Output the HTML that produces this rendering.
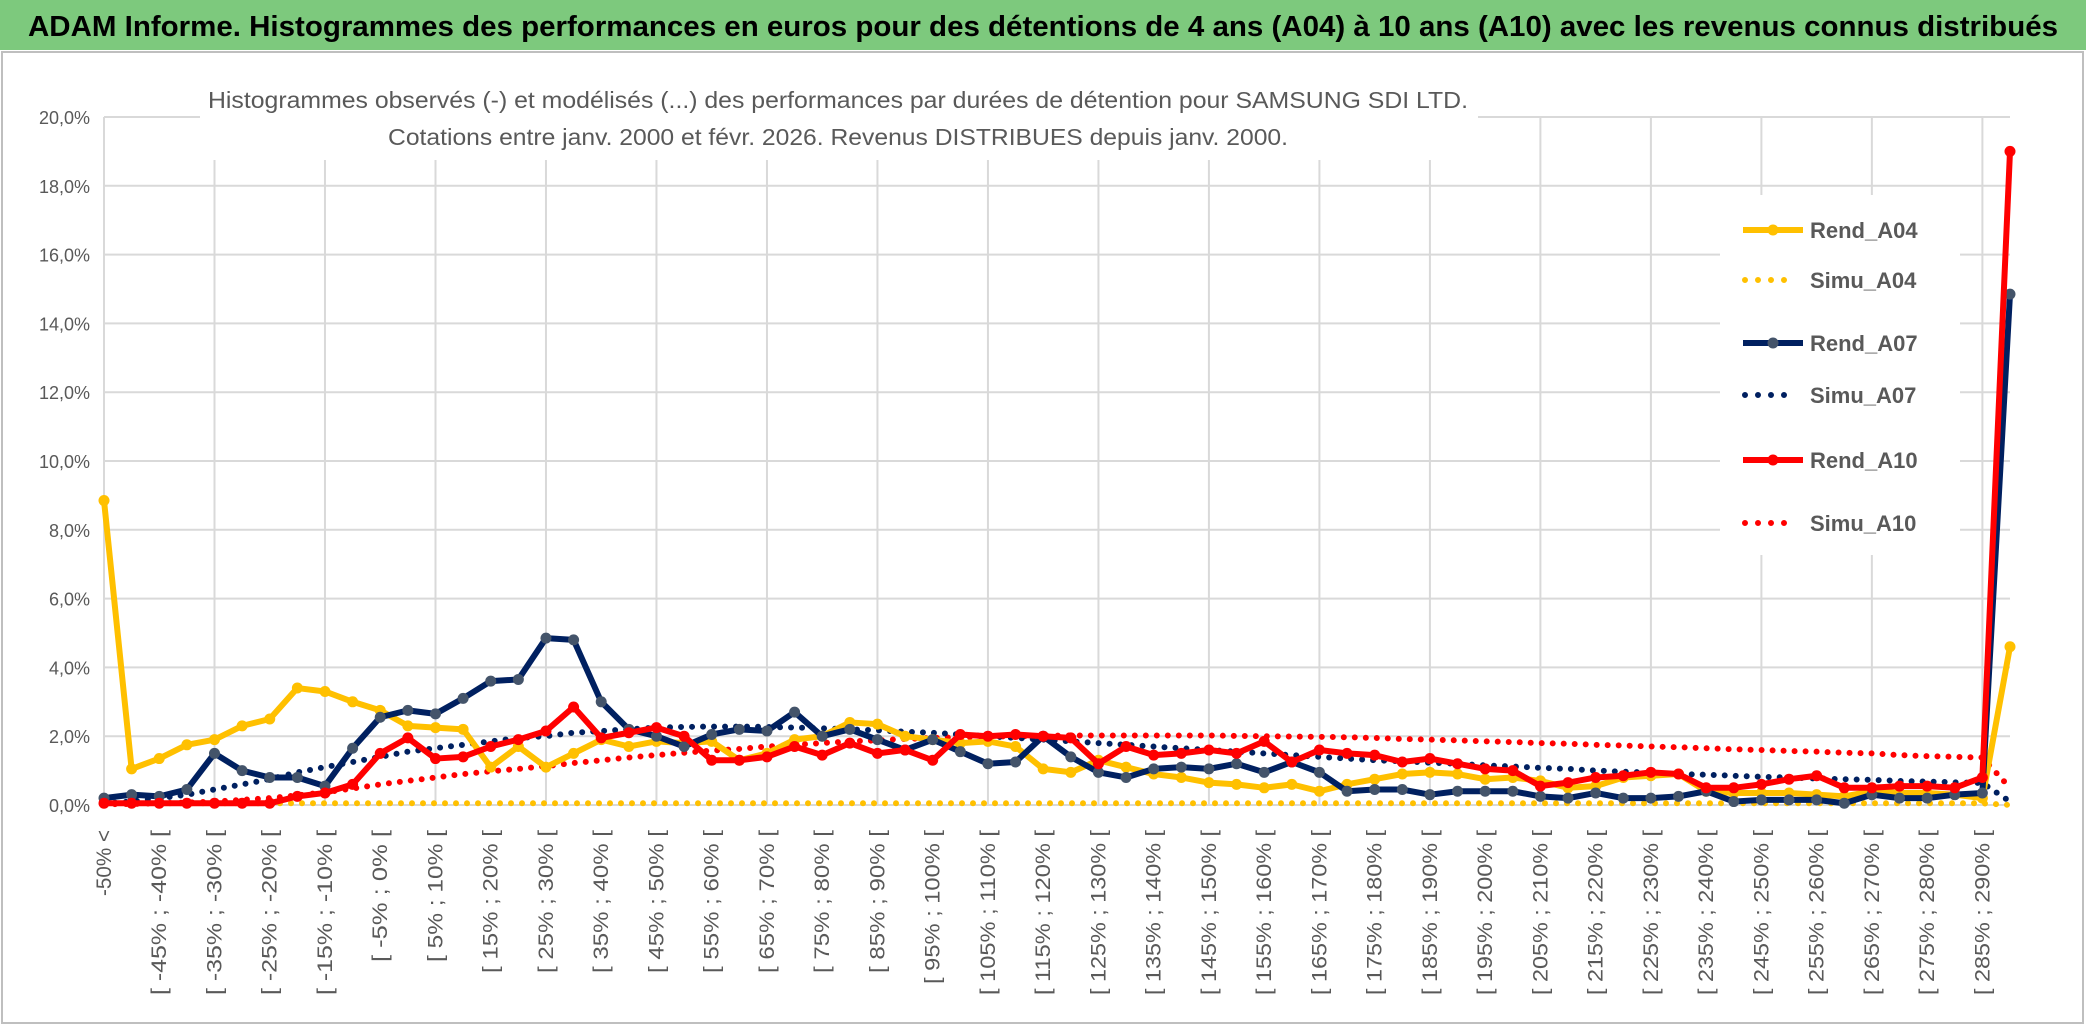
<!DOCTYPE html>
<html><head><meta charset="utf-8"><style>
html,body{margin:0;padding:0;background:#fff}
svg{display:block}
text{font-family:"Liberation Sans",sans-serif}
</style></head><body>
<svg id="chart" width="2086" height="1031" viewBox="0 0 2086 1031">
<rect x="0" y="0" width="2086" height="1031" fill="#fff"/>
<rect x="0" y="0" width="2086" height="50" fill="#7dc97d"/>
<text x="1043" y="36" text-anchor="middle" font-size="29" font-weight="bold" fill="#000" textLength="2030" lengthAdjust="spacingAndGlyphs">ADAM Informe. Histogrammes des performances en euros pour des détentions de 4 ans (A04) à 10 ans (A10) avec les revenus connus distribués</text>
<rect x="2" y="52" width="2081" height="971" fill="none" stroke="#bfbfbf" stroke-width="2"/>
<g id="grid"></g>
<g id="ylabels"></g>
<g id="xlabels"></g>
<rect x="200" y="74" width="1278" height="86" fill="#fff"/>
<text x="838" y="108" text-anchor="middle" font-size="23" fill="#595959" textLength="1260" lengthAdjust="spacingAndGlyphs">Histogrammes observés (-) et modélisés (...) des performances par durées de détention pour SAMSUNG SDI LTD.</text>
<text x="838" y="145" text-anchor="middle" font-size="23" fill="#595959" textLength="900" lengthAdjust="spacingAndGlyphs">Cotations entre janv. 2000 et févr. 2026. Revenus DISTRIBUES depuis janv. 2000.</text>
<g id="series"></g>
<rect x="1720" y="195" width="240" height="360" fill="#fff"/>
<g id="legend"></g>
</svg>
<script>
const categories = (function(){const c=["-50% <"];for(let a=-50;a<295;a+=5){c.push("[ "+a+"% ; "+(a+5)+"% [");}return c;})();
const yTicks = [0,2,4,6,8,10,12,14,16,18,20];
const yTickLabels = ["0,0%","2,0%","4,0%","6,0%","8,0%","10,0%","12,0%","14,0%","16,0%","18,0%","20,0%"];
const rendA04 = [8.85,1.05,1.35,1.75,1.9,2.3,2.5,3.4,3.3,3.0,2.75,2.3,2.25,2.2,1.1,1.7,1.1,1.5,1.9,1.7,1.85,1.8,1.85,1.3,1.5,1.9,2.0,2.4,2.35,2.0,1.9,1.8,1.85,1.7,1.05,0.95,1.3,1.1,0.9,0.8,0.65,0.6,0.5,0.6,0.4,0.6,0.75,0.9,0.95,0.9,0.75,0.8,0.7,0.5,0.55,0.8,0.85,0.9,0.4,0.35,0.35,0.35,0.3,0.25,0.4,0.35,0.35,0.3,0.2,4.6];
const simuA04 = [0.05,0.05,0.05,0.05,0.05,0.05,0.05,0.05,0.05,0.05,0.05,0.05,0.05,0.05,0.05,0.05,0.05,0.05,0.05,0.05,0.05,0.05,0.05,0.05,0.05,0.05,0.05,0.05,0.05,0.05,0.05,0.05,0.05,0.05,0.05,0.05,0.05,0.05,0.05,0.05,0.05,0.05,0.05,0.05,0.05,0.05,0.05,0.05,0.05,0.05,0.05,0.05,0.05,0.05,0.05,0.05,0.05,0.05,0.05,0.05,0.05,0.05,0.05,0.05,0.05,0.05,0.05,0.05,0.05,0.0];
const rendA07 = [0.2,0.3,0.25,0.45,1.5,1.0,0.8,0.8,0.55,1.65,2.55,2.75,2.65,3.1,3.6,3.65,4.85,4.8,3.0,2.2,2.0,1.7,2.05,2.2,2.15,2.7,2.0,2.2,1.9,1.6,1.9,1.55,1.2,1.25,2.0,1.4,0.95,0.8,1.05,1.1,1.05,1.2,0.95,1.25,0.95,0.4,0.45,0.45,0.3,0.4,0.4,0.4,0.25,0.2,0.35,0.2,0.2,0.25,0.4,0.1,0.15,0.15,0.15,0.05,0.3,0.2,0.2,0.3,0.35,14.85];
const simuA07 = [0.05,0.1,0.2,0.3,0.45,0.6,0.75,0.95,1.1,1.25,1.4,1.55,1.65,1.75,1.85,1.95,2.0,2.1,2.15,2.2,2.25,2.27,2.28,2.28,2.27,2.25,2.23,2.2,2.17,2.13,2.1,2.05,2.0,1.95,1.9,1.85,1.8,1.75,1.7,1.65,1.6,1.55,1.5,1.45,1.4,1.35,1.3,1.27,1.23,1.2,1.15,1.12,1.08,1.05,1.0,0.97,0.94,0.9,0.88,0.85,0.82,0.8,0.77,0.75,0.73,0.7,0.68,0.66,0.64,0.1];
const rendA10 = [0.05,0.05,0.05,0.05,0.05,0.05,0.05,0.25,0.35,0.6,1.5,1.95,1.35,1.4,1.7,1.9,2.15,2.85,1.95,2.1,2.25,2.0,1.3,1.3,1.4,1.7,1.45,1.8,1.5,1.6,1.3,2.05,2.0,2.05,2.0,1.95,1.2,1.7,1.45,1.5,1.6,1.5,1.85,1.25,1.6,1.5,1.45,1.25,1.35,1.2,1.05,1.0,0.55,0.65,0.8,0.85,0.95,0.9,0.5,0.5,0.6,0.75,0.85,0.5,0.5,0.55,0.55,0.5,0.8,19.0];
const simuA10 = [0.02,0.03,0.05,0.07,0.1,0.15,0.2,0.28,0.37,0.48,0.6,0.7,0.8,0.9,0.98,1.05,1.13,1.22,1.3,1.38,1.45,1.52,1.58,1.63,1.7,1.75,1.8,1.85,1.88,1.92,1.95,1.97,1.99,2.0,2.01,2.02,2.02,2.02,2.02,2.02,2.02,2.01,2.0,1.99,1.98,1.97,1.95,1.92,1.9,1.88,1.85,1.83,1.8,1.78,1.75,1.73,1.7,1.68,1.65,1.62,1.6,1.57,1.55,1.52,1.5,1.45,1.42,1.4,1.38,0.5];

const NS="http://www.w3.org/2000/svg";
const X0=104, X1=2010, Y0=805, PER=34.4;
function xPos(i){return X0+i*(X1-X0)/(categories.length-1);}
function yPos(v){return Y0-v*PER;}
function mk(tag,attrs,parent){const e=document.createElementNS(NS,tag);for(const k in attrs)e.setAttribute(k,attrs[k]);parent.appendChild(e);return e;}

const grid=document.getElementById('grid');
yTicks.forEach((t,i)=>{
  const l=mk('line',{x1:X0,x2:X1,y1:yPos(t),y2:yPos(t),stroke:'#d9d9d9','stroke-width':2},grid);
  
  
  const tx=mk('text',{x:90,y:yPos(t)+7,'text-anchor':'end','font-size':18,fill:'#595959'},document.getElementById('ylabels'));
  tx.textContent=yTickLabels[i];
  
  
});
for(let i=0;i<categories.length;i+=4){
  const l=mk('line',{x1:xPos(i),x2:xPos(i),y1:yPos(20),y2:Y0,stroke:'#d9d9d9','stroke-width':2},grid);
  
  
}
for(let i=0;i<categories.length-1;i+=2){
  const x=xPos(i)+7, y=830;
  const tx=mk('text',{x:x,y:y,'text-anchor':'end','font-size':21,fill:'#595959',transform:`rotate(-90 ${x} ${y})`,textLength:(categories[i].length*11).toFixed(0),lengthAdjust:'spacingAndGlyphs'},document.getElementById('xlabels'));
  tx.textContent=categories[i];
  
  
}
const seriesG=document.getElementById('series');
function pts(arr){return arr.map((v,i)=>xPos(i)+','+yPos(v)).join(' ');}
function dotted(arr,color,name){
  const p=mk('polyline',{points:pts(arr),fill:'none',stroke:color,'stroke-width':6,'stroke-linecap':'round','stroke-dasharray':'0 11'},seriesG);
  
  
}
function solid(arr,color,mcolor,name){
  const g=mk('g',{},seriesG);
  
  
  mk('polyline',{points:pts(arr),fill:'none',stroke:color,'stroke-width':6,'stroke-linejoin':'round'},g);
  arr.forEach((v,i)=>{
    const c=mk('circle',{cx:xPos(i),cy:yPos(v),r:5.5,fill:mcolor},g);
    
    
  });
}
dotted(simuA04,'#ffc000','simu-a04-line');
dotted(simuA10,'#ff0000','simu-a10-line');
dotted(simuA07,'#002060','simu-a07-line');
solid(rendA04,'#ffc000','#ffc000','rend-a04-line');
solid(rendA07,'#002060','#44546a','rend-a07-line');
solid(rendA10,'#ff0000','#ff0000','rend-a10-line');

const legendItems=[["Rend_A04","#ffc000","#ffc000",false,230],["Simu_A04","#ffc000","#ffc000",true,280],["Rend_A07","#002060","#44546a",false,343],["Simu_A07","#002060","#002060",true,395],["Rend_A10","#ff0000","#ff0000",false,460],["Simu_A10","#ff0000","#ff0000",true,523]];
const lg=document.getElementById('legend');
legendItems.forEach(it=>{
  const g=mk('g',{},lg);
  
  
  const y=it[4];
  if(it[3]){
    mk('line',{x1:1745,x2:1793,y1:y,y2:y,stroke:it[1],'stroke-width':6,'stroke-linecap':'round','stroke-dasharray':'0 13'},g);
  }else{
    mk('line',{x1:1743,x2:1803,y1:y,y2:y,stroke:it[1],'stroke-width':6},g);
    mk('circle',{cx:1773,cy:y,r:5.5,fill:it[2]},g);
  }
  const t=mk('text',{x:1810,y:y+8,'font-size':22,'font-weight':'bold',fill:'#595959'},g);
  t.textContent=it[0];
});
</script>
</body></html>
